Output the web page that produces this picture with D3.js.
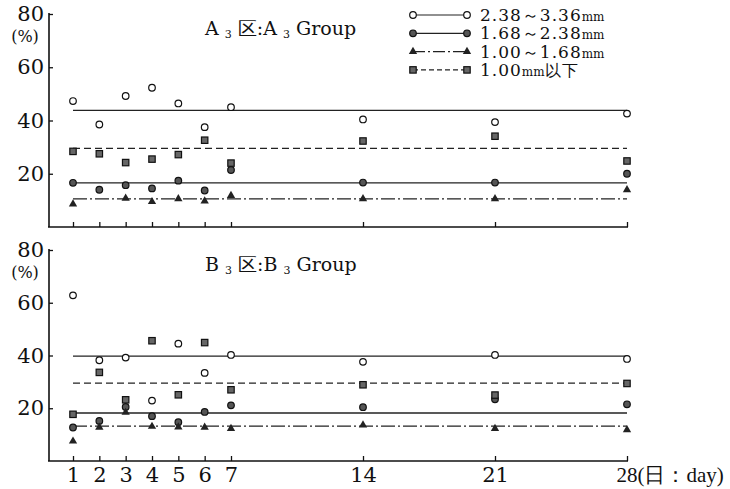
<!DOCTYPE html>
<meta charset="utf-8">
<head>
    <title>A3 / B3 Group</title>
    <script type="text/javascript" src="https://d3js.org/d3.v7.min.js"></script>
    <style>
        html, body {
            margin: 0;
            padding: 0;
            background: white;
        }
        svg text {
            font-family: "DejaVu Serif", "Liberation Serif", serif;
            fill: #111;
        }
        .tick text {
            font-size: 21px;
        }
    </style>
</head>
<body>
    <div id="chart"></div>
    <script>
        // days on the x axis (1..7 evenly, then weekly)
        var days = [1, 2, 3, 4, 5, 6, 7, 14, 21, 28];
        var yTicks = [20, 40, 60, 80];

        // series (particle size class)
        var seriesNames = ["2.38～3.36", "1.68～2.38", "1.00～1.68", "1.00"];

        // A3 group values (%)
        var a3Coarse = [47.3, 38.5, 49.2, 52.3, 46.4, 37.5, 45.0, 40.4, 39.4, 42.6];
        var a3Mid    = [16.6, 14.0, 15.7, 14.5, 17.4, 13.7, 21.4, 16.7, 16.7, 20.0];
        var a3Fine   = [8.6, null, 10.8, 9.5, 10.6, 9.7, 11.8, 10.6, 10.6, 14.0];
        var a3Dust   = [28.4, 27.5, 24.2, 25.5, 27.2, 32.6, 24.0, 32.3, 34.1, 24.8];
        var a3Means  = [43.8, 16.6, 10.6, 29.5];

        // B3 group values (%)
        var b3Coarse = [62.8, 38.2, 39.2, 22.9, 44.5, 33.4, 40.2, 37.6, 40.2, 38.7];
        var b3Mid    = [12.7, 15.2, 20.5, 17.0, 14.7, 18.6, 21.1, 20.4, 23.4, 21.5];
        var b3Fine   = [7.5, 12.8, 18.4, 13.1, 12.9, 12.8, 12.3, 13.6, 12.3, 11.8];
        var b3Dust   = [17.7, 33.6, 23.2, 45.6, 25.1, 44.9, 27.0, 28.9, 25.0, 29.4];
        var b3Means  = [39.8, 18.2, 13.2, 29.5];

        var width = 730, height = 489;

        var svg = d3.select("#chart").append("svg")
            .attr("width", width)
            .attr("height", height);

        // piecewise x scale: 1..7 wide, 7..28 compressed
        var x = d3.scaleLinear().domain([1, 7, 28]).range([73, 231, 627]);

        var styles = [
            {marker: "openCircle", dash: null},
            {marker: "dotCircle", dash: null},
            {marker: "triangle", dash: "14,3,2,3"},
            {marker: "square", dash: "7,4"}
        ];

        function drawMarker(g, type, cx, cy) {
            if (type == "openCircle") {
                g.append("circle").attr("cx", cx).attr("cy", cy).attr("r", 3.3)
                    .attr("fill", "white").attr("stroke", "#111").attr("stroke-width", 1.2);
            } else if (type == "dotCircle") {
                g.append("circle").attr("cx", cx).attr("cy", cy).attr("r", 3.3)
                    .attr("fill", "#555").attr("stroke", "#111").attr("stroke-width", 1.2);
            } else if (type == "triangle") {
                g.append("path")
                    .attr("d", d3.symbol().type(d3.symbolTriangle).size(30))
                    .attr("transform", "translate(" + cx + "," + cy + ")")
                    .attr("fill", "#222");
            } else {
                g.append("rect").attr("x", cx - 3.2).attr("y", cy - 3.2)
                    .attr("width", 6.4).attr("height", 6.4)
                    .attr("fill", "#666").attr("stroke", "#111").attr("stroke-width", 1.2);
            }
        }

        function drawPanel(top, bottom, series, means, title, showLabels) {
            var y = d3.scaleLinear().domain([0, 80]).range([bottom, top]);
            var g = svg.append("g");

            // y axis
            var yAxis = d3.axisLeft(y).tickValues(yTicks).tickSizeInner(-4).tickSizeOuter(0).tickPadding(5);
            var ya = g.append("g").attr("transform", "translate(49,0)").call(yAxis);
            ya.select(".domain").remove();
            ya.selectAll(".tick line").attr("stroke", "#111").attr("stroke-width", 1.3);
            g.append("line").attr("x1", 49).attr("x2", 49).attr("y1", top - 1).attr("y2", bottom)
                .attr("stroke", "#111").attr("stroke-width", 1.6);
            g.append("text").attr("x", 25).attr("y", top + 28)
                .attr("text-anchor", "middle").style("font-size", "16px").text("(%)");

            // x axis
            var xAxis = d3.axisBottom(x).tickValues(days).tickSizeInner(-5).tickSizeOuter(0).tickPadding(6);
            var xa = g.append("g").attr("transform", "translate(0," + bottom + ")").call(xAxis);
            xa.select(".domain").remove();
            xa.selectAll(".tick line").attr("stroke", "#111").attr("stroke-width", 1.3);
            if (!showLabels) {
                xa.selectAll(".tick text").remove();
            } else {
                xa.selectAll(".tick text").filter(function(d) { return d == 28; })
                    .attr("text-anchor", "start").attr("x", -11)
                    .style("font-family", "'Liberation Serif', serif").style("font-size", "21px")
                    .text("28(日：day)");
            }
            g.append("line").attr("x1", 48).attr("x2", 628).attr("y1", bottom).attr("y2", bottom)
                .attr("stroke", "#111").attr("stroke-width", 1.6);

            // mean lines
            means.forEach(function(m, i) {
                g.append("line")
                    .attr("x1", x(1)).attr("x2", x(28))
                    .attr("y1", y(m)).attr("y2", y(m))
                    .attr("stroke", "#222").attr("stroke-width", 1.3)
                    .attr("stroke-dasharray", styles[i].dash);
            });

            // points
            series.forEach(function(vals, i) {
                vals.forEach(function(v, j) {
                    if (v == null) return;
                    drawMarker(g, styles[i].marker, x(days[j]), y(v));
                });
            });

            // title
            var t = g.append("text").attr("x", 205).attr("y", top + 21).style("font-size", "19px");
            t.append("tspan").text(title + " ");
            t.append("tspan").attr("dy", 3).style("font-size", "11px").text("3");
            t.append("tspan").attr("dy", -3).text(" 区:" + title + " ");
            t.append("tspan").attr("dy", 3).style("font-size", "11px").text("3");
            t.append("tspan").attr("dy", -3).text(" Group");
        }

        drawPanel(14, 227, [a3Coarse, a3Mid, a3Fine, a3Dust], a3Means, "A", false);
        drawPanel(250, 461, [b3Coarse, b3Mid, b3Fine, b3Dust], b3Means, "B", true);

        // legend
        var legend = svg.append("g");
        seriesNames.forEach(function(name, i) {
            var ly = 15 + i * 18.3;
            legend.append("line").attr("x1", 413).attr("x2", 467).attr("y1", ly).attr("y2", ly)
                .attr("stroke", "#222").attr("stroke-width", 1.2)
                .attr("stroke-dasharray", i == 3 ? "5,3" : (i == 2 ? "12,3,2,3" : null));
            drawMarker(legend, styles[i].marker, 413, ly);
            drawMarker(legend, styles[i].marker, 467, ly);
            var t = legend.append("text").attr("x", 480).attr("y", ly + 6)
                .style("font-size", "17px").style("letter-spacing", "1px");
            t.append("tspan").text(name);
            t.append("tspan").style("font-size", "12px").style("letter-spacing", "0px").text("mm");
            if (i == 3) t.append("tspan").style("font-size", "16px").text("以下");
        });
    </script>
</body>
</html>
